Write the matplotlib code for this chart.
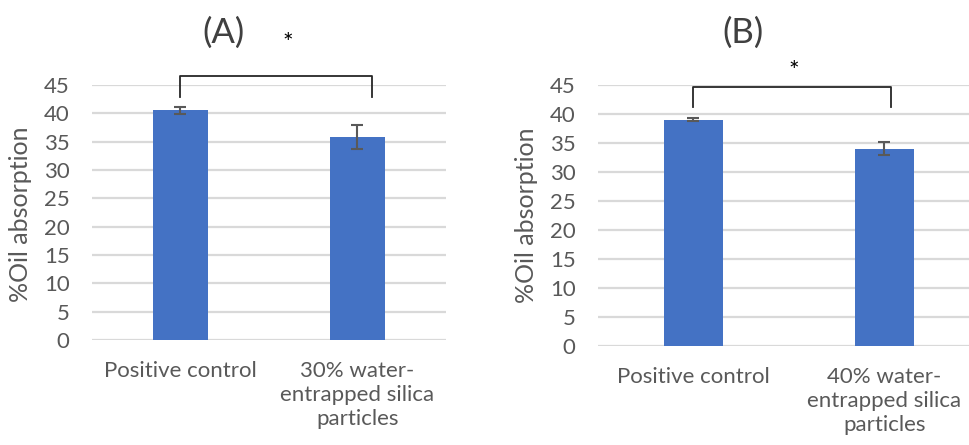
import matplotlib
matplotlib.use("Agg")
import matplotlib.pyplot as plt
import numpy as np

plt.rcParams['font.family'] = ['Lato', 'DejaVu Sans']

# Panel data
titles = ["(A)", "(B)"]
categories_a = ["Positive control", "30% water-\nentrapped silica\nparticles"]
categories_b = ["Positive control", "40% water-\nentrapped silica\nparticles"]
values_a = [40.5, 35.8]
errors_a = [0.65, 2.1]
values_b = [39.0, 34.0]
errors_b = [0.3, 1.05]
yticks = [0, 5, 10, 15, 20, 25, 30, 35, 40, 45]
ylabel = "%Oil absorption"
sig_mark = "*"

BAR = "#4472C4"
GRID = "#d9d9d9"
TEXT = "#595959"

fig = plt.figure(figsize=(9.69, 4.45), dpi=100)

panels = [
    dict(rect=[0.0949, 0.236, 0.3653, 0.573], cats=categories_a, vals=values_a,
         errs=errors_a, title=titles[0], title_xy=(223, 33),
         bracket=(0.0, 1.08, 46.6, 42.9), star_xy=(288, 44),
         ylab_xy=(-0.17, 0.494)),
    dict(rect=[0.6171, 0.2231, 0.3942, 0.5865], cats=categories_b, vals=values_b,
         errs=errors_b, title=titles[1], title_xy=(743, 33),
         bracket=(0.0, 1.035, 44.6, 41.2), star_xy=(794, 72),
         ylab_xy=(-0.157, 0.50)),
]

W, H = 969, 445
for p in panels:
    ax = fig.add_axes(p["rect"])
    x = np.arange(len(p["cats"]))
    ax.bar(x, p["vals"], width=0.31, color=BAR, zorder=3,
           yerr=p["errs"], error_kw=dict(ecolor="#595959", elinewidth=1.5,
                                          capsize=4, capthick=1.5, zorder=4))
    ax.set_xlim(-0.5, 1.5)
    ax.set_ylim(0, 45)
    ax.set_yticks(yticks)
    ax.yaxis.grid(True, color=GRID, linewidth=1.6, zorder=0)
    ax.set_axisbelow(True)
    for s in ax.spines.values():
        s.set_visible(False)
    ax.tick_params(axis="both", length=0, labelsize=16, labelcolor=TEXT)
    ax.tick_params(axis="y", pad=16)
    ax.tick_params(axis="x", pad=15)
    ax.set_xticks(x)
    ax.set_xticklabels(p["cats"], fontsize=16, color=TEXT, linespacing=1.25)
    ax.set_ylabel(ylabel, fontsize=18, color=TEXT)
    ax.yaxis.set_label_coords(*p["ylab_xy"])

    # significance bracket
    x0, x1, ytop, yend = p["bracket"]
    ax.plot([x0, x0, x1, x1], [yend, ytop, ytop, yend], color="#262626",
            linewidth=1.3, clip_on=False, zorder=5)

    tx, ty = p["title_xy"]
    fig.text(tx / W, 1 - ty / H, p["title"], fontsize=25, color="#404040",
             ha="center", va="center")
    sx, sy = p["star_xy"]
    fig.text(sx / W, 1 - sy / H, sig_mark, fontsize=18, color="black",
             ha="center", va="center")

fig.savefig("out.png", dpi=100, facecolor="white")
